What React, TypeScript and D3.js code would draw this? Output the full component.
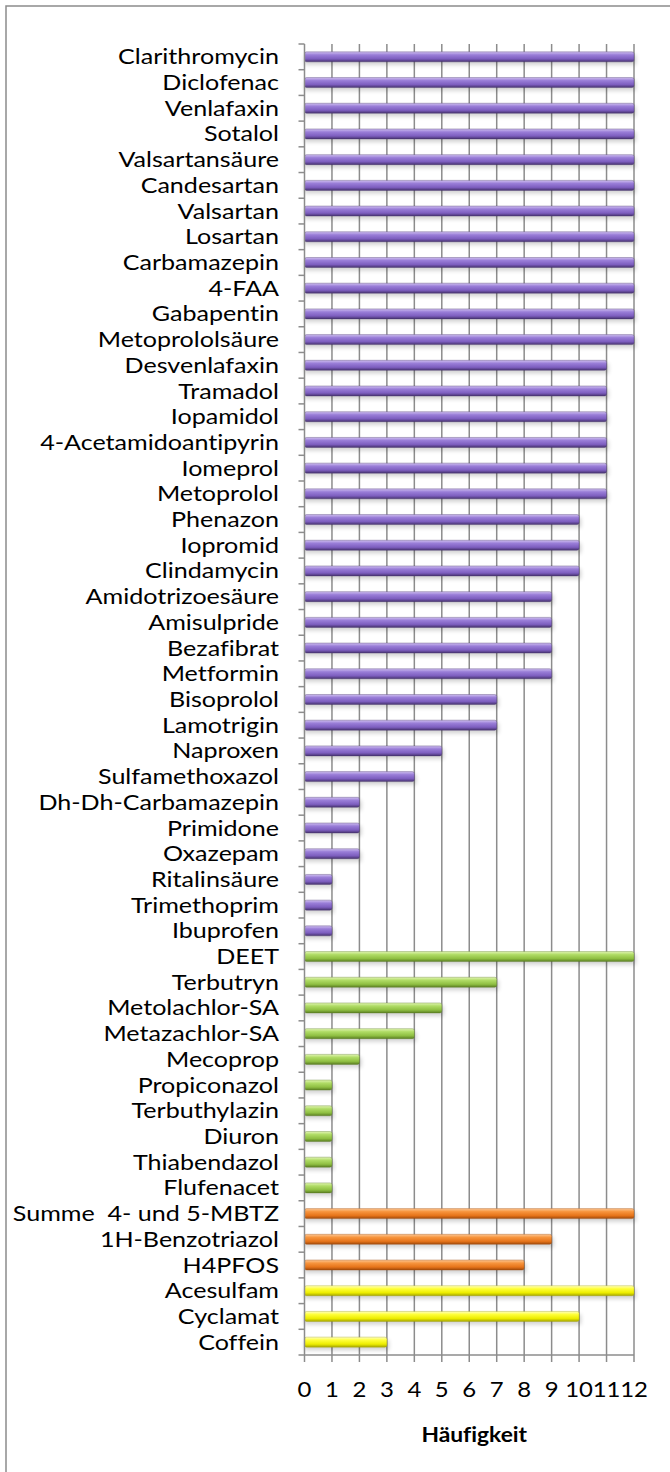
import React from 'react'
import * as d3 from 'd3'

const purpleNames = [
  'Clarithromycin', 'Diclofenac', 'Venlafaxin', 'Sotalol', 'Valsartansäure', 'Candesartan',
  'Valsartan', 'Losartan', 'Carbamazepin', '4-FAA', 'Gabapentin', 'Metoprololsäure',
  'Desvenlafaxin', 'Tramadol', 'Iopamidol', '4-Acetamidoantipyrin', 'Iomeprol', 'Metoprolol',
  'Phenazon', 'Iopromid', 'Clindamycin', 'Amidotrizoesäure', 'Amisulpride', 'Bezafibrat',
  'Metformin', 'Bisoprolol', 'Lamotrigin', 'Naproxen', 'Sulfamethoxazol', 'Dh-Dh-Carbamazepin',
  'Primidone', 'Oxazepam', 'Ritalinsäure', 'Trimethoprim', 'Ibuprofen'
]
const purpleValues = [12, 12, 12, 12, 12, 12, 12, 12, 12, 12, 12, 12, 11, 11, 11, 11, 11, 11, 10, 10, 10, 9, 9, 9, 9, 7, 7, 5, 4, 2, 2, 2, 1, 1, 1]

const greenNames = ['DEET', 'Terbutryn', 'Metolachlor-SA', 'Metazachlor-SA', 'Mecoprop', 'Propiconazol', 'Terbuthylazin', 'Diuron', 'Thiabendazol', 'Flufenacet']
const greenValues = [12, 7, 5, 4, 2, 1, 1, 1, 1, 1]

const orangeNames = ['Summe  4- und 5-MBTZ', '1H-Benzotriazol', 'H4PFOS']
const orangeValues = [12, 9, 8]

const yellowNames = ['Acesulfam', 'Cyclamat', 'Coffein']
const yellowValues = [12, 10, 3]

const xTicks = [0, 1, 2, 3, 4, 5, 6, 7, 8, 9, 10, 11, 12]
const axisTitle = 'Häufigkeit'

// gradient stops per group: top highlight -> body -> dark lower edge
const groupColors: Record<string, string[]> = {
  purple: ['#d0c0f0', '#9a7ed8', '#7d5ebf', '#46326e'],
  green: ['#e2f5b4', '#b0dc66', '#8fbf42', '#5a7e22'],
  orange: ['#fcc896', '#f7953e', '#e6741a', '#a0490a'],
  yellow: ['#ffffc0', '#ffff3a', '#eded00', '#a6a600']
}

const rows = [
  ...purpleNames.map((name, i) => ({ name, value: purpleValues[i], group: 'purple' })),
  ...greenNames.map((name, i) => ({ name, value: greenValues[i], group: 'green' })),
  ...orangeNames.map((name, i) => ({ name, value: orangeValues[i], group: 'orange' })),
  ...yellowNames.map((name, i) => ({ name, value: yellowValues[i], group: 'yellow' }))
]

const W = 670
const H = 1472
const plotLeft = 304.5
const plotRight = 634
const plotTop = 44
const plotBottom = 1355
const barH = 10
const font = 'Lato, "Open Sans", sans-serif'
const sx = 1.14

export default function App() {
  const x = d3.scaleLinear().domain([0, 12]).range([plotLeft, plotRight])
  const y = d3.scaleBand<string>().domain(rows.map(d => d.name)).range([plotTop, plotBottom]).padding(0)
  const bw = y.bandwidth()
  const boundaries = d3.range(rows.length + 1).map(i => plotTop + i * bw)
  const txt = { fontFamily: font, fill: '#000', style: { whiteSpace: 'pre' as const, fontVariantLigatures: 'none' } }

  return (
    <div style={{ position: 'absolute', left: 0, top: 0 }}>
      <svg width={W} height={H} xmlns="http://www.w3.org/2000/svg" style={{ display: 'block', background: '#fff' }}>
        <defs>
          {Object.keys(groupColors).map(g => (
            <linearGradient key={g} id={'grad-' + g} x1="0" y1="0" x2="0" y2="1">
              <stop offset="0" stopColor={groupColors[g][0]} />
              <stop offset="0.3" stopColor={groupColors[g][1]} />
              <stop offset="0.7" stopColor={groupColors[g][2]} />
              <stop offset="1" stopColor={groupColors[g][3]} />
            </linearGradient>
          ))}
          <filter id="shadow" x="-10%" y="-100%" width="120%" height="300%">
            <feGaussianBlur stdDeviation="2" />
          </filter>
        </defs>

        {/* chart frame */}
        <rect x={6} y={6} width={W} height={H} fill="none" stroke="#8c8c8c" strokeWidth={1.5} />

        {/* gridlines */}
        {xTicks.slice(1).map(t => (
          <line key={'g' + t} x1={x(t)} x2={x(t)} y1={plotTop} y2={plotBottom} stroke="#8c8c8c" strokeWidth={1.5} />
        ))}

        {/* bar shadows */}
        {rows.map(d => (
          <rect key={'s' + d.name} x={x(0)} y={(y(d.name) as number) + bw / 2 - barH / 2 + 3}
            width={x(d.value) - x(0) + 2} height={barH} fill="#000" opacity={0.18} filter="url(#shadow)" />
        ))}

        {/* bars */}
        {rows.map(d => (
          <rect key={'b' + d.name} x={x(0)} y={(y(d.name) as number) + bw / 2 - barH / 2}
            width={x(d.value) - x(0)} height={barH} rx={2} ry={2}
            fill={`url(#grad-${d.group})`} stroke={groupColors[d.group][3]} strokeWidth={0.6} strokeOpacity={0.6} />
        ))}

        {/* left axis */}
        <line x1={plotLeft} x2={plotLeft} y1={plotTop} y2={plotBottom} stroke="#8c8c8c" strokeWidth={1.5} />
        {boundaries.map((b, i) => (
          <line key={'lt' + i} x1={plotLeft - 6} x2={plotLeft} y1={b} y2={b} stroke="#8c8c8c" strokeWidth={1.5} />
        ))}

        {/* bottom axis */}
        <line x1={plotLeft} x2={plotRight} y1={plotBottom} y2={plotBottom} stroke="#8c8c8c" strokeWidth={1.5} />
        {xTicks.map(t => (
          <line key={'bt' + t} x1={x(t)} x2={x(t)} y1={plotBottom} y2={plotBottom + 7} stroke="#8c8c8c" strokeWidth={1.5} />
        ))}

        {/* category labels */}
        {rows.map(d => (
          <text key={'l' + d.name} transform={`translate(279,${(y(d.name) as number) + bw / 2 + 7.5}) scale(${sx},1)`}
            textAnchor="end" fontSize={22} {...txt}>
            {d.name}
          </text>
        ))}

        {/* tick labels */}
        {xTicks.map(t => (
          <text key={'tl' + t} transform={`translate(${x(t)},1397) scale(${sx},1)`}
            textAnchor="middle" fontSize={21} {...txt}>
            {t}
          </text>
        ))}

        <text transform={`translate(${(plotLeft + plotRight) / 2 + 5},1442) scale(${sx},1)`} textAnchor="middle"
          fontSize={20} fontWeight="bold" {...txt}>
          {axisTitle}
        </text>
      </svg>
    </div>
  )
}
